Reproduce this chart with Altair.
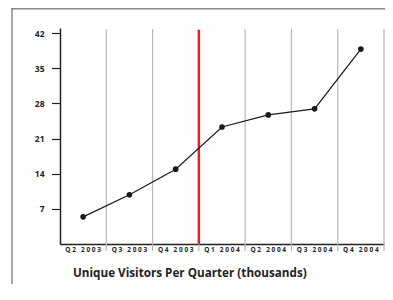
import altair as alt
import pandas as pd

quarters = ["Q2 2003", "Q3 2003", "Q4 2003", "Q1 2004", "Q2 2004", "Q3 2004", "Q4 2004"]
visitors = [5.4, 9.8, 14.9, 23.3, 25.7, 26.9, 38.8]
y_ticks = [7, 14, 21, 28, 35, 42]
boundaries = [1, 2, 3, 4, 5, 6, 7]
marker_pos = [3]
title_text = "Unique Visitors Per Quarter (thousands)"

FONT = "Open Sans"
W, H = 324, 216
NB = "\u00a0"

def spaced(s):
    return NB.join(NB if c == " " else c for c in s)

df = pd.DataFrame({
    "pos": [i + 0.5 for i in range(len(quarters))],
    "quarter": quarters,
    "label": [spaced(q) for q in quarters],
    "visitors": visitors,
})
grid_df = pd.DataFrame({"b": boundaries})
red_df = pd.DataFrame({"b": marker_pos})
title_df = pd.DataFrame({"t": [title_text]})

xs = alt.Scale(domain=[0, 7], nice=False, zero=False)
ys = alt.Scale(domain=[0, 43], nice=False)

border_left = alt.Chart(title_df).mark_rect(color="#8a8a8a").encode(
    x=alt.value(-48.75), x2=alt.value(-47.25), y=alt.value(-20), y2=alt.value(260)
)
border_top = alt.Chart(title_df).mark_rect(color="#8a8a8a").encode(
    x=alt.value(-48.75), x2=alt.value(W + 1), y=alt.value(-20), y2=alt.value(-18.5)
)

grid = alt.Chart(grid_df).mark_rule(color="#b4b9be", strokeWidth=1.2).encode(
    x=alt.X("b:Q", scale=xs, axis=alt.Axis(title=None, labels=False, ticks=False, grid=False,
                                             domainColor="#222", domainWidth=1.5)),
    y=alt.value(1), y2=alt.value(H + 7)
)

red = alt.Chart(red_df).mark_rule(color="#ee1c25", strokeWidth=2.5).encode(
    x=alt.X("b:Q", scale=xs), y=alt.value(2), y2=alt.value(H)
)

line = alt.Chart(df).mark_line(color="#1a1a1a", strokeWidth=1.2).encode(
    x=alt.X("pos:Q", scale=xs),
    y=alt.Y("visitors:Q", scale=ys,
            axis=alt.Axis(title=None, values=y_ticks, tickSize=8.5, tickColor="#222", tickWidth=1.2,
                          domainColor="#222", domainWidth=1.5, labelFont=FONT, labelFontWeight="bold",
                          labelFontSize=8.5, labelColor="#222", labelPadding=7.5, grid=False))
)

pts = alt.Chart(df).mark_point(filled=True, color="#1a1a1a", size=32, opacity=1).encode(
    x=alt.X("pos:Q", scale=xs), y=alt.Y("visitors:Q", scale=ys)
)

labels = alt.Chart(df).mark_text(font=FONT, fontWeight="bold", fontSize=6.5, color="#222",
                                 baseline="middle").encode(
    x=alt.X("pos:Q", scale=xs), y=alt.value(H + 5.5), text="label:N"
)

title = alt.Chart(title_df).mark_text(font=FONT, fontWeight="bold", fontSize=11.7, color="#222",
                                      align="left", baseline="middle").encode(
    x=alt.value(13), y=alt.value(245), text="t:N"
)

chart = alt.layer(border_left, border_top, grid, red, line, pts, labels, title).properties(
    width=W, height=H,
    autosize=alt.AutoSizeParams(type="none"),
    padding={"left": 52, "top": 20, "right": 1, "bottom": 40},
).configure_view(stroke=None)

chart.save("out.html", embed_options={"renderer": "svg", "actions": False})
